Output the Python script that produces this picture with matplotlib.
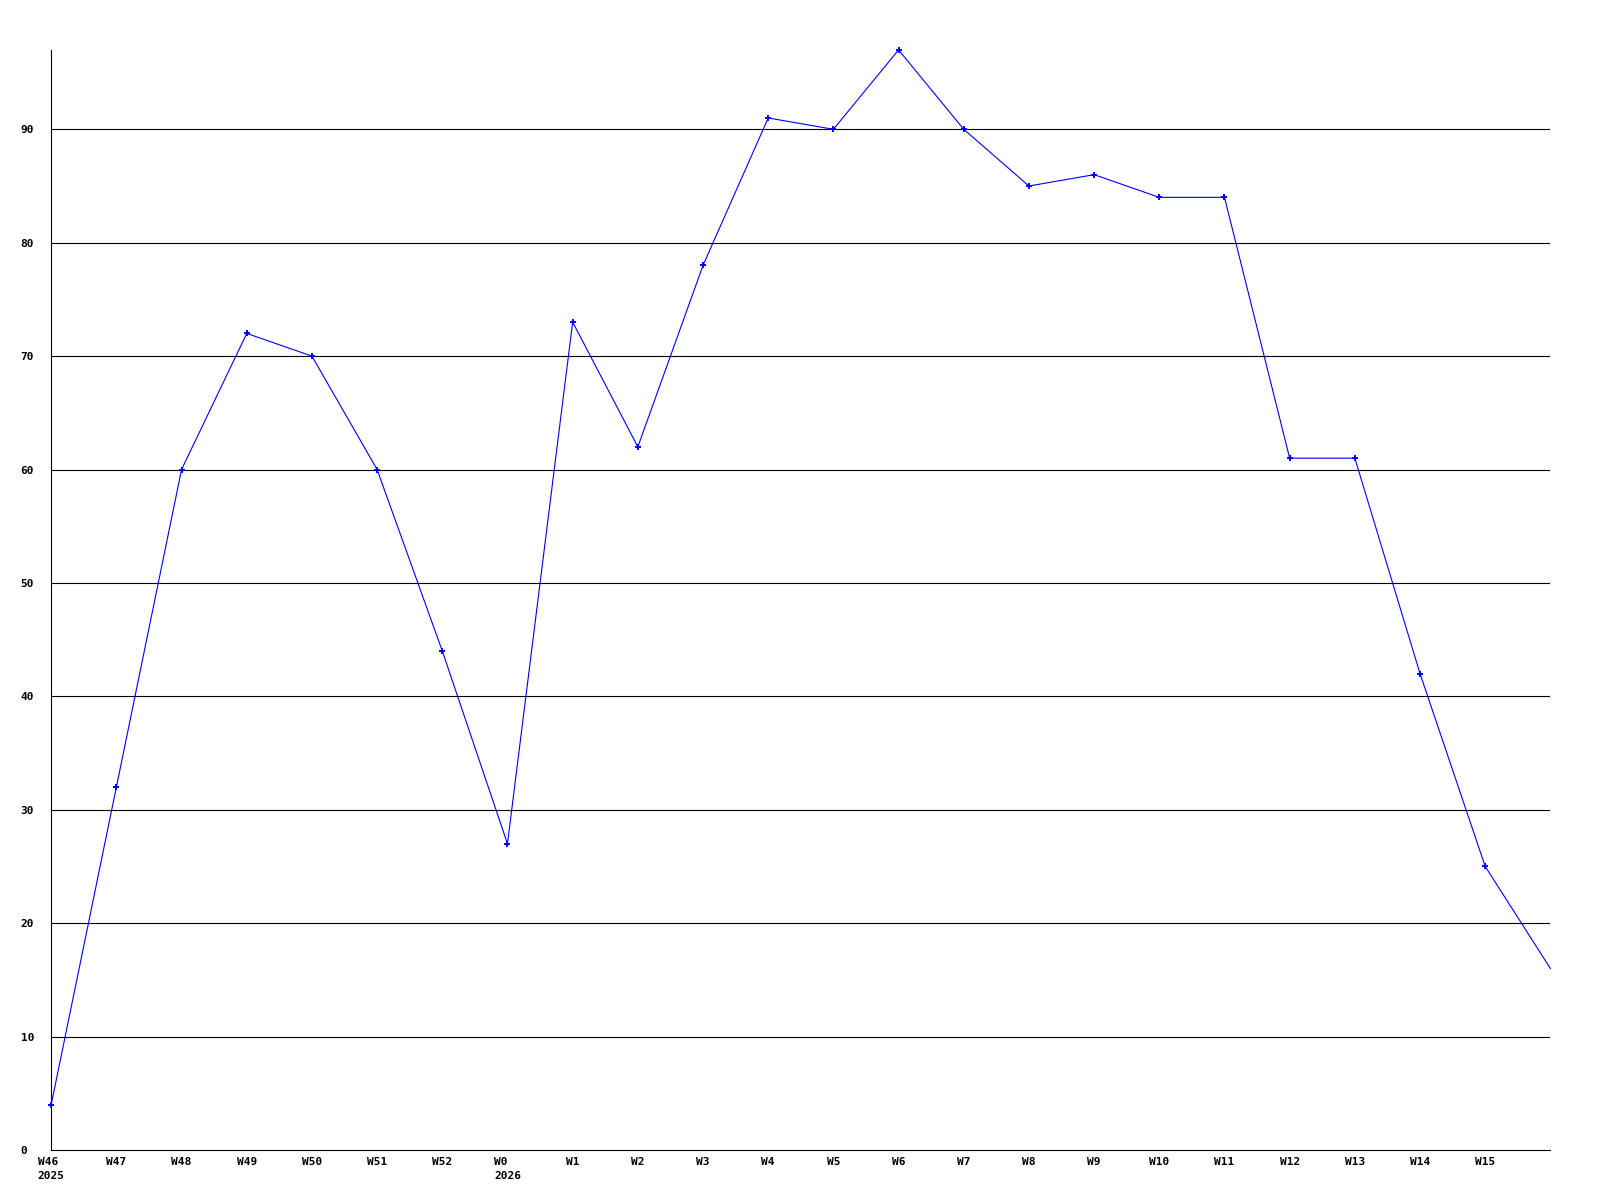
import matplotlib
matplotlib.use("Agg")
import matplotlib.pyplot as plt

# weekly values
weeks = ["W46\n2025", "W47", "W48", "W49", "W50", "W51", "W52", "W0\n2026",
         "W1", "W2", "W3", "W4", "W5", "W6", "W7", "W8", "W9", "W10",
         "W11", "W12", "W13", "W14", "W15", ""]
values = [4, 32, 60, 72, 70, 60, 44, 27, 73, 62, 78, 91, 90, 97, 90, 85,
          86, 84, 84, 61, 61, 42, 25, 16]
yticks = [0, 10, 20, 30, 40, 50, 60, 70, 80, 90]

fig = plt.figure(figsize=(16, 12), dpi=100)
ax = fig.add_axes([0.032, 0.0417, 0.937, 0.9167])

x = list(range(len(values)))
for t in yticks[1:]:
    ax.axhline(t, color="black", lw=0.8, zorder=1)
ax.plot(x, values, color="#0000ff", lw=0.8, marker="+", ms=4, mew=1.4,
        markevery=list(range(len(values) - 1)), zorder=3, clip_on=False)

ax.set_xlim(0, len(values) - 1)
ax.set_ylim(0, 97)
ax.spines["top"].set_visible(False)
ax.spines["right"].set_visible(False)
ax.spines["left"].set_linewidth(0.8)
ax.spines["bottom"].set_linewidth(0.8)

font = dict(family="DejaVu Sans Mono", weight="bold", size=8)
ax.set_xticks(x)
ax.set_xticklabels(weeks, multialignment="left", linespacing=1.5, **font)
ax.set_yticks(yticks)
ax.set_yticklabels([str(t) for t in yticks], **font)
for lab in ax.get_yticklabels():
    lab.set_horizontalalignment("left")
ax.tick_params(axis="y", length=0, pad=22)
ax.tick_params(axis="x", length=0, pad=5)

fig.savefig("out.png", dpi=100, facecolor="white")
